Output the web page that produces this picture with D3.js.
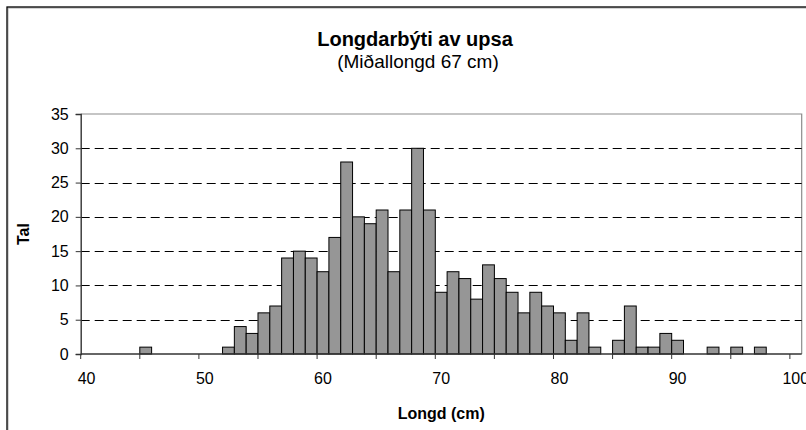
<!DOCTYPE html>
<html>
<head>
<meta charset="utf-8">
<script src="https://cdn.jsdelivr.net/npm/d3@7.9.0/dist/d3.min.js"></script>
<style>
  body { margin: 0; background: #fff; }
  svg { display: block; font-family: Arial, "Liberation Sans", sans-serif; }
</style>
</head>
<body>
<svg id="chart" width="806" height="430"></svg>
<script>
// Length classes (cm) and number of fish in each
const lengths = d3.range(40, 101);
const counts = [
  0, 0, 0, 0, 0, 1, 0, 0, 0, 0,        // 40-49
  0, 0, 1, 4, 3, 6, 7, 14, 15, 14,     // 50-59
  12, 17, 28, 20, 19, 21, 12, 21, 30, 21, // 60-69
  9, 12, 11, 8, 13, 11, 9, 6, 9, 7,    // 70-79
  6, 2, 6, 1, 0, 2, 7, 1, 1, 3,        // 80-89
  2, 0, 0, 1, 0, 1, 0, 1, 0, 0,        // 90-99
  0                                    // 100
];
const xLabels = [40, 50, 60, 70, 80, 90, 100];
const xTickMarks = [40, 45, 50, 55, 60, 65, 70, 75, 80, 85, 90, 95, 100];
const yTicks = [0, 5, 10, 15, 20, 25, 30, 35];

const data = lengths.map((l, i) => ({ length: l, count: counts[i] }));

const plot = { left: 80.7, right: 801.7, top: 114, bottom: 354 };

const svg = d3.select("#chart");

// outer chart border (runs off the right / bottom edges)
svg.append("rect")
  .attr("x", 8).attr("y", 8)
  .attr("width", 840).attr("height", 460)
  .attr("fill", "none").attr("stroke", "#aaa").attr("stroke-width", 1);
svg.append("rect")
  .attr("x", 7).attr("y", 7)
  .attr("width", 840).attr("height", 460)
  .attr("fill", "none").attr("stroke", "#000").attr("stroke-width", 1.3);

const x = d3.scaleBand()
  .domain(lengths)
  .range([plot.left, plot.right])
  .padding(0);

const y = d3.scaleLinear()
  .domain([0, 35])
  .range([plot.bottom, plot.top]);

// plot area frame (top/right grey)
svg.append("path")
  .attr("d", `M${plot.left},${plot.top}H${plot.right}V${plot.bottom}`)
  .attr("fill", "none")
  .attr("stroke", "#8c8c8c")
  .attr("stroke-width", 1.2);

// dashed gridlines
svg.append("g")
  .selectAll("line")
  .data(yTicks.filter(d => d > 0 && d < 35))
  .join("line")
  .attr("x1", plot.left)
  .attr("x2", plot.right)
  .attr("y1", d => Math.round(y(d)) + 0.5)
  .attr("y2", d => Math.round(y(d)) + 0.5)
  .attr("stroke", "#000")
  .attr("stroke-width", 1)
  .attr("stroke-dasharray", "9,5");

// bars
svg.append("g")
  .selectAll("rect")
  .data(data.filter(d => d.count > 0))
  .join("rect")
  .attr("x", d => x(d.length))
  .attr("y", d => y(d.count))
  .attr("width", x.bandwidth())
  .attr("height", d => y(0) - y(d.count))
  .attr("fill", "#969696")
  .attr("stroke", "#000")
  .attr("stroke-width", 1);

// y axis
const yAxis = svg.append("g")
  .attr("transform", `translate(${plot.left},0)`)
  .call(d3.axisLeft(y).tickValues(yTicks).tickSize(5).tickPadding(7));
yAxis.select(".domain").attr("stroke", "#333").attr("stroke-width", 1.4);
yAxis.selectAll(".tick line").attr("stroke", "#333");
yAxis.selectAll("text").attr("font-size", 16).attr("fill", "#000");

// x axis: labels at category centres, tick marks every 5 at category edges
const xAxis = svg.append("g")
  .attr("transform", `translate(0,${plot.bottom})`)
  .call(d3.axisBottom(x).tickValues(xLabels).tickSize(0).tickPadding(19));
xAxis.select(".domain").remove();
xAxis.selectAll("text").attr("font-size", 16).attr("fill", "#000");

svg.append("line")
  .attr("x1", plot.left).attr("x2", plot.right)
  .attr("y1", plot.bottom).attr("y2", plot.bottom)
  .attr("stroke", "#333").attr("stroke-width", 1.4);

svg.append("g")
  .selectAll("line")
  .data(xTickMarks)
  .join("line")
  .attr("x1", d => x(d))
  .attr("x2", d => x(d))
  .attr("y1", plot.bottom)
  .attr("y2", plot.bottom + 5)
  .attr("stroke", "#333");

// titles
svg.append("text")
  .attr("x", 415).attr("y", 46)
  .attr("text-anchor", "middle")
  .attr("font-size", 20).attr("font-weight", "bold")
  .text("Longdarbýti av upsa");

svg.append("text")
  .attr("x", 418).attr("y", 68)
  .attr("text-anchor", "middle")
  .attr("font-size", 19)
  .text("(Miðallongd 67 cm)");

svg.append("text")
  .attr("transform", `translate(29,${(plot.top + plot.bottom) / 2}) rotate(-90)`)
  .attr("text-anchor", "middle")
  .attr("font-size", 16).attr("font-weight", "bold")
  .text("Tal");

svg.append("text")
  .attr("x", (plot.left + plot.right) / 2).attr("y", 419)
  .attr("text-anchor", "middle")
  .attr("font-size", 16).attr("font-weight", "bold")
  .text("Longd (cm)");
</script>
</body>
</html>
